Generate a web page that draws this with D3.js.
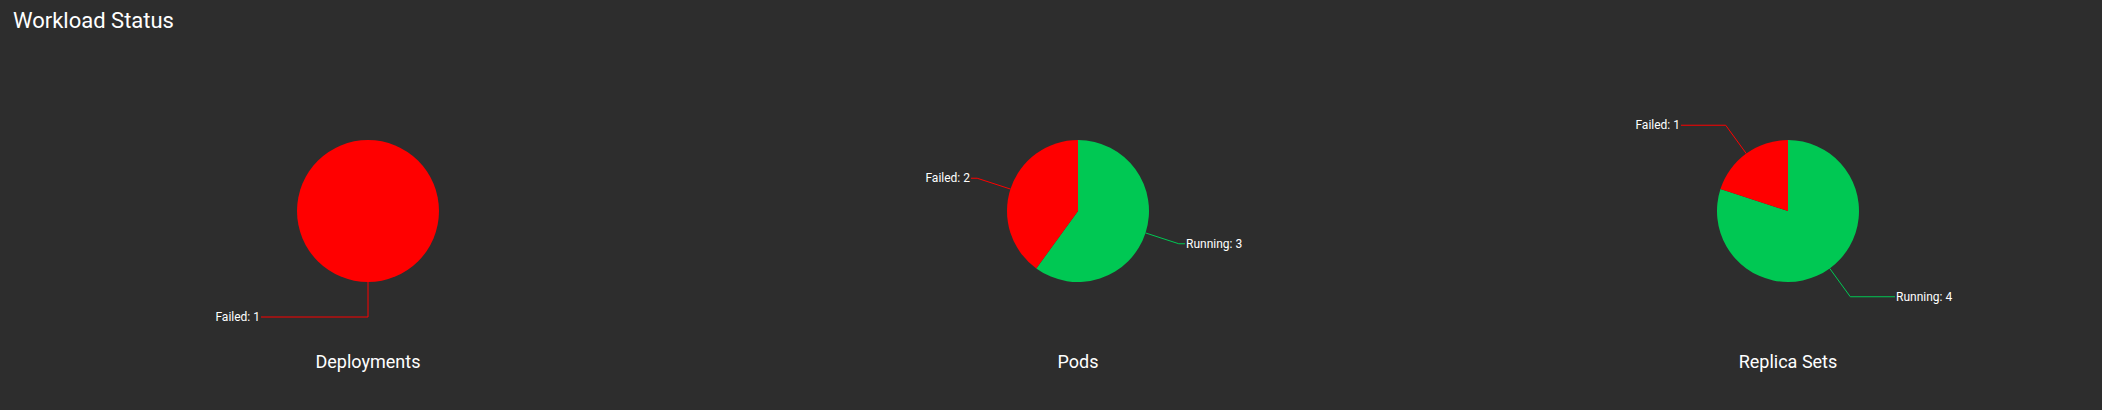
<!DOCTYPE html>
<html>
<head>
<meta charset="utf-8">
<script src="https://cdn.jsdelivr.net/npm/d3@7"></script>
<style>
  html, body { margin: 0; padding: 0; background: #2d2d2d; overflow: hidden; }
  svg { display: block; }
  text { font-family: Roboto, "Noto Sans", sans-serif; }
</style>
</head>
<body>
<svg id="chart" width="2102" height="410"></svg>
<script>
const chartTitle = "Workload Status";
const categories = ["Deployments", "Pods", "Replica Sets"];
const statusNames = ["Running", "Failed"];
const runningValues = [0, 3, 4];
const failedValues = [1, 2, 1];
const statusColors = ["#00c853", "#ff0000"];

const W = 2102, H = 410;
const svg = d3.select("#chart");
svg.append("rect").attr("width", W).attr("height", H).attr("fill", "#2d2d2d");

svg.append("text")
  .attr("x", 13).attr("y", 28)
  .attr("fill", "#ffffff")
  .attr("font-size", 22)
  .text(chartTitle);

const xScale = d3.scalePoint().domain(categories).range([368, 1788]);
const cy = 211;
const radius = 71;
const len1 = 35;
const labelEdge = 107;

const color = d3.scaleOrdinal().domain(statusNames).range(statusColors);
const pie = d3.pie().sort(null).value(d => d.value);
const arc = d3.arc().innerRadius(0).outerRadius(radius);

categories.forEach((cat, i) => {
  const data = [
    { name: statusNames[0], value: runningValues[i] },
    { name: statusNames[1], value: failedValues[i] }
  ].filter(d => d.value > 0);

  const g = svg.append("g").attr("transform", `translate(${xScale(cat)},${cy})`);
  const arcs = pie(data);

  g.selectAll("path.slice").data(arcs).enter().append("path")
    .attr("class", "slice")
    .attr("d", arc)
    .attr("fill", d => color(d.data.name));

  arcs.forEach(d => {
    const a = (d.startAngle + d.endAngle) / 2;
    const s = Math.sin(a), c = -Math.cos(a);
    const right = s > 1e-6;
    const p1 = [s * radius, c * radius];
    const p2 = [s * (radius + len1), c * (radius + len1)];
    const p3 = [(right ? 1 : -1) * labelEdge, p2[1]];
    g.append("polyline")
      .attr("points", [p1, p2, p3].map(p => p.join(",")).join(" "))
      .attr("fill", "none")
      .attr("stroke", color(d.data.name))
      .attr("stroke-width", 1);
    g.append("text")
      .attr("x", p3[0] + (right ? 1 : -1))
      .attr("y", p3[1])
      .attr("dy", "0.35em")
      .attr("text-anchor", right ? "start" : "end")
      .attr("fill", "#ffffff")
      .attr("font-size", 12)
      .text(`${d.data.name}: ${d.data.value}`);
  });

  svg.append("text")
    .attr("x", xScale(cat)).attr("y", 368)
    .attr("text-anchor", "middle")
    .attr("fill", "#ffffff")
    .attr("font-size", 18)
    .text(cat);
});
</script>
</body>
</html>
